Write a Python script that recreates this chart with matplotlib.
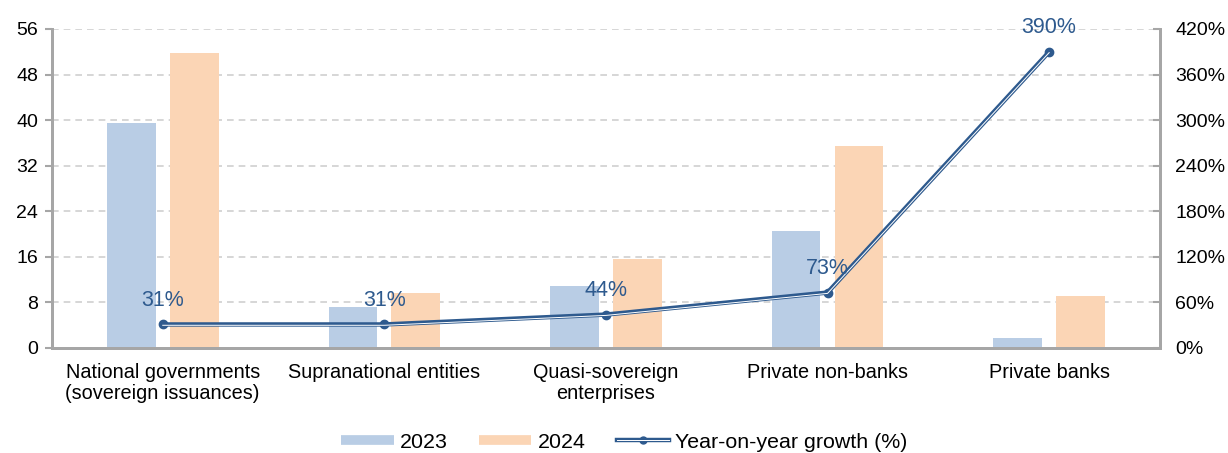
import numpy as np
import matplotlib
matplotlib.use("Agg")
import matplotlib.pyplot as plt
from matplotlib.transforms import ScaledTranslation
from matplotlib.lines import Line2D
from matplotlib.legend_handler import HandlerTuple
from matplotlib.ticker import FuncFormatter

plt.rcParams['font.family'] = ['Liberation Sans', 'DejaVu Sans']

categories = ["National governments\n(sovereign issuances)", "Supranational entities",
              "Quasi-sovereign\nenterprises", "Private non-banks", "Private banks"]
values_2023 = [39.5, 7.25, 10.9, 20.5, 1.8]
values_2024 = [51.8, 9.7, 15.6, 35.5, 9.1]
growth_pct = [31, 31, 44, 73, 390]
growth_labels = ["31%", "31%", "44%", "73%", "390%"]

c2023 = "#B9CDE5"
c2024 = "#FBD5B5"
cline = "#2E5A8E"
gray = "#A6A6A6"

fig = plt.figure(figsize=(12.28, 4.53), dpi=100)
ax = fig.add_axes([0.0423, 0.2318, 0.9023, 0.7042])
ax2 = ax.twinx()

x = np.arange(len(categories))
w = 0.22
off = 0.142
ax.bar(x - off, values_2023, w, color=c2023, zorder=2)
ax.bar(x + off, values_2024, w, color=c2024, zorder=2)

ax.set_xlim(-0.5, len(categories) - 0.5)
ax.set_ylim(0, 56)
ax.set_yticks(np.arange(0, 57, 8))
ax.yaxis.grid(True, linestyle=(0, (4, 3)), color="#D0D0D0", linewidth=1.2, zorder=0)
ax.set_axisbelow(True)
ax.set_xticks(x)
ax.set_xticklabels(categories, fontsize=14.3, linespacing=1.1)
ax.tick_params(axis='x', length=0, pad=11)
ax.tick_params(axis='y', labelsize=14, length=5, width=1.5, color=gray, pad=5)

ax2.set_ylim(0, 420)
ax2.set_yticks(np.arange(0, 421, 60))
ax2.yaxis.set_major_formatter(FuncFormatter(lambda v, p: f"{int(v)}%"))
ax2.tick_params(axis='y', labelsize=14, length=5, width=1.5, color=gray,
                direction='in', pad=11)

for a in (ax, ax2):
    a.spines['top'].set_visible(False)
    for s in ('left', 'right', 'bottom'):
        a.spines[s].set_color(gray)
        a.spines[s].set_linewidth(2)

# growth line: dark blue stroke with a thin white inner line
ax2.plot(x, growth_pct, color=cline, lw=3.2, marker='o', markersize=6,
         zorder=5, clip_on=False)
ax2.plot(x, growth_pct, color="white", lw=0.7, zorder=6, clip_on=False,
         transform=ax2.transData + ScaledTranslation(0, -0.6 / 72, fig.dpi_scale_trans))

for xi, g, lab in zip(x, growth_pct, growth_labels):
    ax2.annotate(lab, (xi, g), xytext=(0, 10), textcoords='offset points',
                 ha='center', va='bottom', fontsize=15.5, color=cline, zorder=7)

h_line = (Line2D([], [], color=cline, lw=3.2, marker='o', markersize=5),
          Line2D([], [], color="white", lw=0.7))
handles = [Line2D([], [], color=c2023, lw=7, solid_capstyle='butt'),
           Line2D([], [], color=c2024, lw=7, solid_capstyle='butt'),
           h_line]
fig.legend(handles, ["2023", "2024", "Year-on-year growth (%)"], loc='center',
           bbox_to_anchor=(0.5085, 0.024), ncol=3, frameon=False, fontsize=15.4,
           handlelength=2.45, handletextpad=0.3, columnspacing=1.45,
           handler_map={tuple: HandlerTuple(ndivide=1)})

fig.savefig("out.png", dpi=100)
